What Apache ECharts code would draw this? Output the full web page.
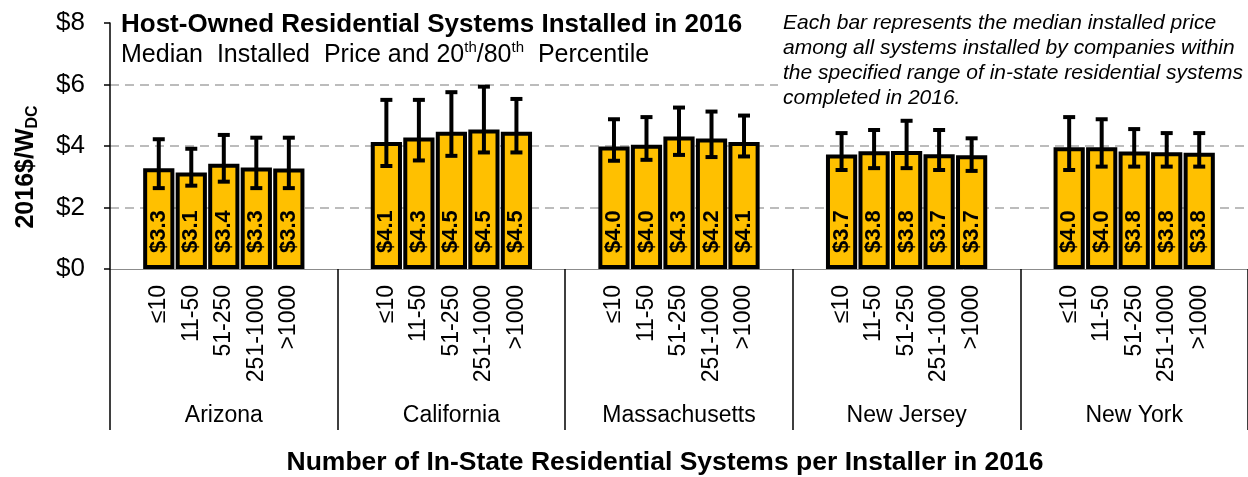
<!DOCTYPE html>
<html>
<head>
<meta charset="utf-8">
<script src="https://cdn.jsdelivr.net/npm/echarts@6/dist/echarts.min.js"></script>
<style>
  html, body { margin: 0; padding: 0; background: #fff; }
  #chart { width: 1248px; height: 477px; }
</style>
</head>
<body>
<div id="chart"></div>
<script>
// ---- Data ----
var states = ['Arizona', 'California', 'Massachusetts', 'New Jersey', 'New York'];
var sizeBins = ['≤10', '11-50', '51-250', '251-1000', '>1000'];
var yTicks = [0, 2, 4, 6, 8];

// median installed price (2016$/W_DC), per state, per installer-size bin
var medianAZ = [3.28, 3.14, 3.42, 3.30, 3.27];
var medianCA = [4.13, 4.28, 4.46, 4.54, 4.46];
var medianMA = [3.98, 4.04, 4.31, 4.24, 4.13];
var medianNJ = [3.72, 3.83, 3.84, 3.73, 3.70];
var medianNY = [3.96, 3.96, 3.82, 3.80, 3.78];

// 20th percentile
var p20AZ = [2.63, 2.71, 2.84, 2.63, 2.63];
var p20CA = [3.35, 3.53, 3.68, 3.79, 3.79];
var p20MA = [3.52, 3.55, 3.71, 3.64, 3.66];
var p20NJ = [3.22, 3.28, 3.28, 3.22, 3.19];
var p20NY = [3.22, 3.33, 3.33, 3.33, 3.33];

// 80th percentile
var p80AZ = [4.22, 3.91, 4.36, 4.27, 4.27];
var p80CA = [5.50, 5.50, 5.75, 5.93, 5.53];
var p80MA = [4.87, 4.94, 5.25, 5.12, 4.99];
var p80NJ = [4.42, 4.52, 4.82, 4.52, 4.25];
var p80NY = [4.94, 4.87, 4.55, 4.42, 4.42];

var medians = [medianAZ, medianCA, medianMA, medianNJ, medianNY];
var p20s = [p20AZ, p20CA, p20MA, p20NJ, p20NY];
var p80s = [p80AZ, p80CA, p80MA, p80NJ, p80NY];

// ---- Build slot-based category axis (spacer, 5 bins, spacer per state) ----
var cats = [], barData = [], errData = [];
var idx = 0;
states.forEach(function (s, si) {
  cats.push(''); barData.push('-'); idx++;
  sizeBins.forEach(function (b, bi) {
    cats.push(b);
    barData.push(medians[si][bi]);
    errData.push([idx, p20s[si][bi], p80s[si][bi]]);
    idx++;
  });
  cats.push(''); barData.push('-'); idx++;
});

var FONT = '"Liberation Sans", Arial, sans-serif';
var chart = echarts.init(document.getElementById('chart'), null, { renderer: 'canvas' });

var option = {
  animation: false,
  backgroundColor: '#ffffff',
  textStyle: { fontFamily: FONT, color: '#000' },
  grid: { left: 110, right: 0, top: 23, bottom: 208, containLabel: false },
  xAxis: [
    {
      type: 'category',
      data: cats,
      axisLine: { show: true, lineStyle: { color: '#8c8c8c', width: 1 } },
      axisTick: { show: false },
      axisLabel: { interval: 0, rotate: 90, fontSize: 23, margin: 16, color: '#000', fontFamily: FONT },
      splitLine: { show: false }
    },
    {
      type: 'category',
      data: states,
      position: 'bottom',
      offset: 161,
      axisLine: { show: false },
      axisTick: { show: true, inside: true, length: 161, lineStyle: { color: '#000', width: 1.5 } },
      axisLabel: { inside: true, margin: 3, fontSize: 23, color: '#000', fontFamily: FONT },
      splitLine: { show: false }
    }
  ],
  yAxis: {
    type: 'value',
    min: yTicks[0],
    max: yTicks[yTicks.length - 1],
    interval: 2,
    axisLine: { show: true, lineStyle: { color: '#000', width: 1.5 } },
    axisTick: { show: true, length: 6, lineStyle: { color: '#000', width: 1.5 } },
    axisLabel: { formatter: '${value}', fontSize: 26, margin: 25, color: '#000', fontFamily: FONT },
    splitLine: {
      show: true, showMinLine: false, showMaxLine: false,
      lineStyle: { color: '#a6a6a6', width: 1.5, type: [9, 6] }
    }
  },
  series: [
    {
      type: 'bar',
      xAxisIndex: 0,
      data: barData,
      barCategoryGap: '4%',
      itemStyle: { color: '#FFC000', borderColor: '#000', borderWidth: 4 },
      label: {
        show: true,
        position: 'insideBottom',
        distance: 16,
        rotate: 90,
        align: 'left',
        verticalAlign: 'middle',
        fontSize: 22,
        fontWeight: 'bold',
        color: '#000',
        fontFamily: FONT,
        formatter: function (p) { return '$' + Number(p.value).toFixed(1); }
      },
      z: 2
    },
    {
      type: 'custom',
      xAxisIndex: 0,
      data: errData,
      encode: { x: 0, y: [1, 2] },
      z: 5,
      renderItem: function (params, api) {
        var x = api.value(0);
        var lo = api.coord([x, api.value(1)]);
        var hi = api.coord([x, api.value(2)]);
        var cap = 6;
        var style = { stroke: '#000', lineWidth: 4 };
        return {
          type: 'group',
          children: [
            { type: 'line', shape: { x1: lo[0], y1: lo[1], x2: hi[0], y2: hi[1] }, style: style },
            { type: 'line', shape: { x1: lo[0] - cap, y1: lo[1], x2: lo[0] + cap, y2: lo[1] }, style: style },
            { type: 'line', shape: { x1: hi[0] - cap, y1: hi[1], x2: hi[0] + cap, y2: hi[1] }, style: style }
          ]
        };
      }
    }
  ],
  graphic: [
    {
      type: 'text', z: 100, left: 121, top: 12,
      style: {
        text: 'Host-Owned Residential Systems Installed in 2016',
        fontSize: 26, fontWeight: 'bold', fill: '#000', fontFamily: FONT,
        backgroundColor: '#fff'
      }
    },
    {
      type: 'text', z: 100, left: 121, top: 40,
      style: {
        text: '{n|Median  Installed  Price and 20}{s|th}{n|/80}{s|th}{n|  Percentile}',
        fontFamily: FONT, fill: '#000',
        rich: {
          n: { fontSize: 25, lineHeight: 30, fontFamily: FONT, color: '#000' },
          s: { fontSize: 15, lineHeight: 15, verticalAlign: 'top', fontFamily: FONT, color: '#000' }
        }
      }
    },
    {
      type: 'text', z: 100, left: 778, top: 9,
      style: {
        text: 'Each bar represents the median installed price\namong all systems installed by companies within\nthe specified range of in-state residential systems\ncompleted in 2016.',
        fontSize: 21, fontStyle: 'italic', lineHeight: 25, fill: '#000', fontFamily: FONT,
        backgroundColor: '#fff', padding: [2, 4, 2, 5]
      }
    },
    {
      type: 'text', z: 100, x: 26, y: 167, rotation: Math.PI / 2,
      style: {
        text: '{b|2016$/W}{s|DC}',
        align: 'center', verticalAlign: 'middle', fontFamily: FONT,
        rich: {
          b: { fontSize: 25, fontWeight: 'bold', lineHeight: 30, fontFamily: FONT, color: '#000' },
          s: { fontSize: 16, fontWeight: 'bold', lineHeight: 16, verticalAlign: 'bottom', fontFamily: FONT, color: '#000' }
        }
      }
    },
    {
      type: 'text', z: 100, x: 665, y: 463,
      style: {
        text: 'Number of In-State Residential Systems per Installer in 2016',
        fontSize: 26.5, fontWeight: 'bold', fill: '#000', fontFamily: FONT,
        align: 'center', verticalAlign: 'middle'
      }
    }
  ]
};
chart.setOption(option);
</script>
</body>
</html>
